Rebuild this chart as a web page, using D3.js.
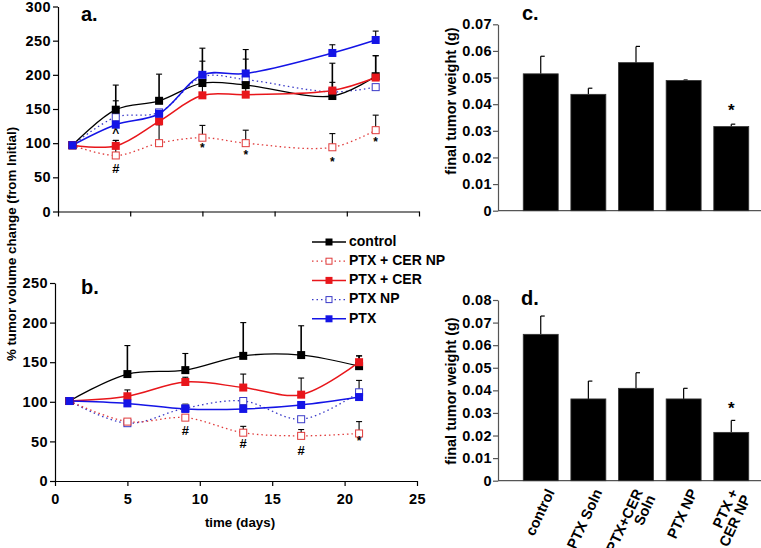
<!DOCTYPE html>
<html><head><meta charset="utf-8">
<script src="https://cdn.jsdelivr.net/npm/d3@7"></script>
<style>
body{margin:0;background:#fff;}
text{font-family:"Liberation Sans",Arial,sans-serif;font-weight:bold;}
</style></head>
<body><svg id="c" width="761" height="548"></svg>
<script>
// ---------- data ----------
const seriesNames = ["control","PTX + CER NP","PTX + CER","PTX NP","PTX"];
const daysA = [1,4,7,10,13,19,22];
const controlA   = [97,149,162,188,185,169,198];
const controlAErr= [0,36,39,51,52,48,30];
const ptxCerNpA  = [97,82,100,108,100,94,119];
const ptxCerNpAErr=[0,22,27,18,19,20,22];
const ptxCerA    = [97,96,132,170,171,177,196];
const ptxCerAErr = [0,8,0,50,52,12,32];
const ptxNpA     = [97,138,145,197,193,175,182];
const ptxNpAErr  = [0,0,0,4,4,0,0];
const ptxA       = [97,127,143,200,202,232,251];
const ptxAErr    = [0,35,0,0,0,12,13];

const daysB = [1,5,9,13,17,21];
const controlB   = [101,135,140,158,159,145];
const controlBErr= [0,36,21,42,37,13];
const ptxCerNpB  = [101,75,80,61,57,60];
const ptxCerNpBErr=[0,0,0,8,8,15];
const ptxCerB    = [101,107,125,118,109,150];
const ptxCerBErr = [0,8,6,17,21,8];
const ptxNpB     = [101,73,92,101,78,112];
const ptxNpBErr  = [0,0,0,0,0,15];
const ptxB       = [101,98,91,91,96,106];
const ptxBErr    = [0,0,6,0,0,0];

const annotA = [{d:4,v:62,t:"#"},{d:4,v:114,t:"^"},{d:10,v:92,t:"*"},{d:13,v:82,t:"*"},{d:19,v:71,t:"*"},{d:22,v:101,t:"*"}];
const annotB = [{d:9,v:62,t:"#"},{d:13,v:46,t:"#"},{d:17,v:37,t:"#"},{d:21,v:50,t:"*"}];

const barCats = ["control","PTX Soln","PTX+CER Soln","PTX NP","PTX + CER NP"];
const barLabelLines = [["control"],["PTX Soln"],["PTX+CER","Soln"],["PTX NP"],["PTX +","CER NP"]];
const weightC = [0.0514,0.0437,0.0556,0.0489,0.0316];
const weightCErr = [0.0066,0.0023,0.0061,0.0002,0.0009];
const weightD = [0.0648,0.0362,0.0409,0.0362,0.0214];
const weightDErr = [0.0081,0.0079,0.0069,0.0047,0.0053];
const starC = 0.0372, starD = 0.0313;

const yTicksA = [0,50,100,150,200,250,300];
const yTicksB = [0,50,100,150,200,250];
const xTicks = [0,5,10,15,20,25];
const yTicksC = [0,0.01,0.02,0.03,0.04,0.05,0.06,0.07];
const yTicksD = [0,0.01,0.02,0.03,0.04,0.05,0.06,0.07,0.08];

// ---------- styles ----------
const styles = [
  {color:"#000000", dash:null, open:false, w:1.3},
  {color:"#e03a3a", dash:"1.5,3", open:true, w:1.3},
  {color:"#e8161b", dash:null, open:false, w:1.5},
  {color:"#3a3ac8", dash:"1.5,3", open:true, w:1.3},
  {color:"#1414e6", dash:null, open:false, w:1.5}
];

const svg = d3.select("#c");

function tickFont(sel){ sel.selectAll("text").attr("font-size","14.5px").attr("letter-spacing","0.4px").attr("fill","#000"); }

function linePanel(days, vals, errs, annots, xr, yr, ydom, yticks, showXLabels, letter, letterPos){
  const x = d3.scaleLinear().domain([0,25]).range(xr);
  const y = d3.scaleLinear().domain(ydom).range(yr);
  const g = svg.append("g");
  const ax = g.append("g").attr("transform",`translate(0,${yr[0]})`)
    .call(d3.axisBottom(x).tickValues(xTicks).tickSize(5).tickSizeOuter(0).tickFormat(showXLabels? d3.format("d") : ""));
  ax.select(".domain").attr("stroke","#000").attr("stroke-width",1.2);
  ax.selectAll("line").attr("stroke","#000").attr("stroke-width",1.2);
  tickFont(ax); ax.selectAll("text").attr("dy","1.05em");
  const ay = g.append("g").attr("transform",`translate(${xr[0]},0)`)
    .call(d3.axisLeft(y).tickValues(yticks).tickSize(5).tickSizeOuter(0).tickFormat(d3.format("d")));
  ay.select(".domain").attr("stroke","#000").attr("stroke-width",1.2);
  ay.selectAll("line").attr("stroke","#000").attr("stroke-width",1.2);
  tickFont(ay); ay.selectAll("text").attr("x",-7);

  // error bars
  vals.forEach((s,i)=>{
    s.forEach((v,j)=>{
      const e = errs[i][j]; if(!e) return;
      const cx = x(days[j]);
      g.append("line").attr("x1",cx).attr("x2",cx).attr("y1",y(v)).attr("y2",y(v+e)).attr("stroke","#000").attr("stroke-width",i===0?1.6:1.1);
      g.append("line").attr("x1",cx-3).attr("x2",cx+3).attr("y1",y(v+e)).attr("y2",y(v+e)).attr("stroke","#000").attr("stroke-width",1.1);
    });
  });
  const line = d3.line().x((d,j)=>x(days[j])).y(d=>y(d)).curve(d3.curveCatmullRom.alpha(0.5));
  const order = [3,1,0,2,4];
  order.forEach(i=>{
    const st = styles[i];
    g.append("path").attr("d",line(vals[i])).attr("fill","none").attr("stroke",st.color)
      .attr("stroke-width",st.w).attr("stroke-dasharray",st.dash);
  });
  order.forEach(i=>{
    const st = styles[i];
    vals[i].forEach((v,j)=>{
      if(st.open){
        g.append("rect").attr("x",x(days[j])-3.5).attr("y",y(v)-3.5).attr("width",7).attr("height",7)
          .attr("fill","#fff").attr("stroke",st.color).attr("stroke-width",1);
      } else {
        g.append("rect").attr("x",x(days[j])-4).attr("y",y(v)-4).attr("width",8).attr("height",8).attr("fill",st.color);
      }
    });
  });
  annots.forEach(a=>{
    g.append("text").attr("x",x(a.d)).attr("y",y(a.v)).attr("text-anchor","middle").attr("dominant-baseline","middle")
      .attr("font-size",a.t==="#"?"13px":"12px").text(a.t);
  });
  g.append("text").attr("x",letterPos[0]).attr("y",letterPos[1]).attr("font-size","20px").text(letter);
  return {x,y};
}

const valsA=[controlA,ptxCerNpA,ptxCerA,ptxNpA,ptxA], errsA=[controlAErr,ptxCerNpAErr,ptxCerAErr,ptxNpAErr,ptxAErr];
const valsB=[controlB,ptxCerNpB,ptxCerB,ptxNpB,ptxB], errsB=[controlBErr,ptxCerNpBErr,ptxCerBErr,ptxNpBErr,ptxBErr];
linePanel(daysA,valsA,errsA,annotA,[58,419],[211.5,6.5],[0,300],yTicksA,false,"a.",[81,21]);
linePanel(daysB,valsB,errsB,annotB,[55,417],[481,283],[0,250],yTicksB,true,"b.",[81,294]);

// y label left
svg.append("text").attr("transform","translate(16,244) rotate(-90)").attr("text-anchor","middle")
  .attr("font-size","13.3px").text("% tumor volume change (from Initial)");
svg.append("text").attr("x",240).attr("y",527).attr("text-anchor","middle").attr("font-size","13.3px").text("time (days)");

// legend
const lg = svg.append("g");
seriesNames.forEach((n,i)=>{
  const st = styles[i];
  const yy = 242 + i*19.2;
  lg.append("line").attr("x1",312).attr("x2",346).attr("y1",yy).attr("y2",yy).attr("stroke",st.color)
    .attr("stroke-width",st.w).attr("stroke-dasharray",st.dash);
  if(st.open) lg.append("rect").attr("x",326).attr("y",yy-3).attr("width",6).attr("height",6).attr("fill","#fff").attr("stroke",st.color);
  else lg.append("rect").attr("x",325.5).attr("y",yy-3.5).attr("width",7).attr("height",7).attr("fill",st.color);
  lg.append("text").attr("x",349).attr("y",yy).attr("dominant-baseline","middle").attr("font-size","14px").text(n);
});

// bar panels
function barPanel(vals, errs, yr, ydom, yticks, star, letter, letterPos, labels){
  const x = d3.scaleBand().domain(barCats).range([498,774]).paddingInner(0.266).paddingOuter(0.53);
  const y = d3.scaleLinear().domain(ydom).range(yr);
  const g = svg.append("g");
  const ay = g.append("g").attr("transform","translate(498,0)")
    .call(d3.axisLeft(y).tickValues(yticks).tickSize(5).tickSizeOuter(0).tickFormat(d=>d===0?"0":d3.format(".2f")(d)));
  ay.select(".domain").attr("stroke","#555").attr("stroke-width",1.2);
  ay.selectAll("line").attr("stroke","#555").attr("stroke-width",1.2);
  tickFont(ay); ay.selectAll("text").attr("x",-6);
  g.append("line").attr("x1",498).attr("x2",761).attr("y1",yr[0]).attr("y2",yr[0]).attr("stroke","#555").attr("stroke-width",1.2);
  barCats.forEach((c,i)=>{
    const cx = x(c)+x.bandwidth()/2;
    g.append("line").attr("x1",cx).attr("x2",cx).attr("y1",y(vals[i])).attr("y2",y(vals[i]+errs[i])).attr("stroke","#000").attr("stroke-width",1.2);
    g.append("line").attr("x1",cx).attr("x2",cx+4).attr("y1",y(vals[i]+errs[i])).attr("y2",y(vals[i]+errs[i])).attr("stroke","#000").attr("stroke-width",1.2);
    g.append("rect").attr("x",x(c)).attr("y",y(vals[i])).attr("width",x.bandwidth()).attr("height",y(0)-y(vals[i]))
      .attr("fill","#000").attr("stroke","#333").attr("stroke-width",0.8);
  });
  const last = barCats[barCats.length-1];
  g.append("text").attr("x",x(last)+x.bandwidth()/2).attr("y",y(star)).attr("text-anchor","middle").attr("dominant-baseline","middle")
    .attr("font-size","17px").text("*");
  g.append("text").attr("x",letterPos[0]).attr("y",letterPos[1]).attr("font-size","20px").text(letter);
  if(labels){
    barCats.forEach((c,i)=>{
      const lines = barLabelLines[i];
      const cx = x(c)+x.bandwidth()/2 + (lines.length>1? -2 : 5);
      const t = g.append("text").attr("transform",`translate(${cx},${yr[0]+7}) rotate(-65)`).attr("text-anchor","end").attr("font-size","14.6px");
      lines.forEach((l,k)=>t.append("tspan").attr("x",0).attr("dy",k===0?"0.7em":"0.95em").text(l));
    });
  }
  return {x,y};
}
barPanel(weightC,weightCErr,[210.7,24.3],[0,0.07],yTicksC,starC,"c.",[522,20],false);
barPanel(weightD,weightDErr,[480.7,300],[0,0.08],yTicksD,starD,"d.",[521,305],true);

svg.append("text").attr("transform","translate(456,101) rotate(-90)").attr("text-anchor","middle").attr("font-size","14.5px").text("final tumor weight (g)");
svg.append("text").attr("transform","translate(456,391) rotate(-90)").attr("text-anchor","middle").attr("font-size","14.5px").text("final tumor weight (g)");
</script></body></html>
